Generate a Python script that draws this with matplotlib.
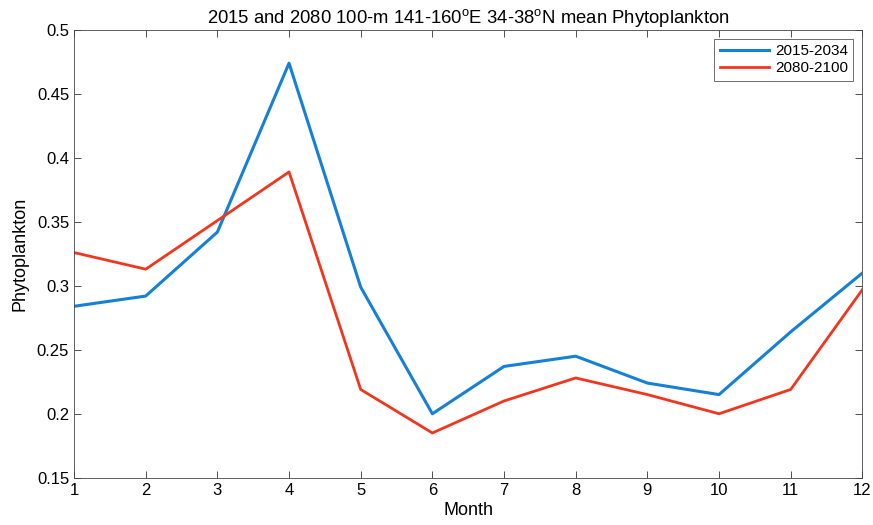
import matplotlib
matplotlib.use("Agg")
import matplotlib.pyplot as plt

# Dados
meses = [1, 2, 3, 4, 5, 6, 7, 8, 9, 10, 11, 12]
fito_2015 = [0.284, 0.292, 0.342, 0.474, 0.299, 0.200, 0.237, 0.245, 0.224, 0.215, 0.264, 0.310]
fito_2080 = [0.326, 0.313, 0.351, 0.389, 0.219, 0.185, 0.210, 0.228, 0.215, 0.200, 0.219, 0.297]
rotulos = ["2015-2034", "2080-2100"]
yticks = [0.15, 0.2, 0.25, 0.3, 0.35, 0.4, 0.45, 0.5]

plt.rcParams["font.family"] = ["Liberation Sans", "DejaVu Sans"]

fig = plt.figure(figsize=(8.73, 5.25), dpi=100)
ax = fig.add_axes([0.0848, 0.090, 0.903, 0.853])

ax.plot(meses, fito_2015, color="#1580d6", lw=2.2, label=rotulos[0])
ax.plot(meses, fito_2080, color="#f2361e", lw=2.0, label=rotulos[1])

ax.set_xlim(1, 12)
ax.set_ylim(0.15, 0.5)
ax.set_xticks(meses)
ax.set_yticks(yticks)
ax.set_yticklabels([f"{v:g}" for v in yticks])
ax.tick_params(direction="in", top=True, right=True, labelsize=12, length=5, width=0.6, colors="#333333", labelcolor="black")
for s in ax.spines.values():
    s.set_linewidth(0.6)
    s.set_color("#444444")

ax.set_xlabel("Month", fontsize=13, labelpad=3)
ax.set_ylabel("Phytoplankton", fontsize=13, labelpad=6)
ax.set_title("2015 and 2080 100-m 141-160$^\\mathregular{o}$E 34-38$^\\mathregular{o}$N mean Phytoplankton",
             fontsize=13.3, pad=5)

leg = ax.legend(loc="upper right", fontsize=11, fancybox=False, framealpha=1,
                edgecolor="#555555", handlelength=3.2, handletextpad=0.4,
                borderpad=0.35, labelspacing=0.2, borderaxespad=0.6)
leg.get_frame().set_linewidth(0.6)

fig.savefig("out.png", dpi=100)
